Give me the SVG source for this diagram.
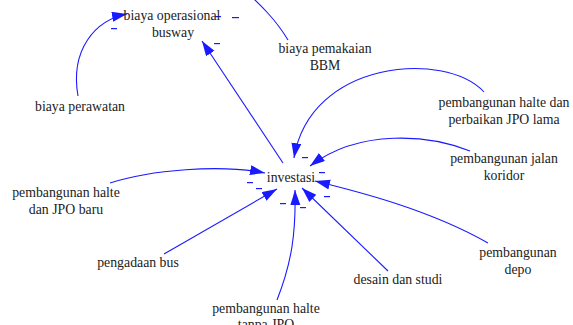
<svg xmlns="http://www.w3.org/2000/svg" width="573" height="325" viewBox="0 0 573 325">
<defs>
<style>
text{font-family:'Liberation Serif','Times New Roman',Tinos,'DejaVu Serif',serif;font-size:13.8px;fill:#222;text-anchor:middle}
.c{fill:none;stroke:#1a1aff;stroke-width:1.1}
.s{fill:#1a1aff}
</style>
<marker id="a" markerUnits="userSpaceOnUse" markerWidth="16" markerHeight="12" refX="15" refY="5" orient="auto">
<path d="M0,0 L15,5 L0,10 Z" fill="#1a1aff"/>
</marker>
</defs>
<rect width="573" height="325" fill="#fff"/>
<g id="connectors">
<path class="c" marker-end="url(#a)" d="M78,96 C70,50 95,20 127,14"/>
<path class="c" marker-end="url(#a)" d="M288,40 C276,20 262,6 240,-14"/>
<path class="c" marker-end="url(#a)" d="M283,163 L202,41"/>
<path class="c" marker-end="url(#a)" d="M484,92 C445,50 310,60 294,158"/>
<path class="c" marker-end="url(#a)" d="M470,151 C430,135 360,128 310,166"/>
<path class="c" marker-end="url(#a)" d="M488,243 C430,210 360,192 315,181"/>
<path class="c" marker-end="url(#a)" d="M388,271 L302,188"/>
<path class="c" marker-end="url(#a)" d="M277,300 C292,262 296,232 295,190"/>
<path class="c" marker-end="url(#a)" d="M164,254 L277,189"/>
<path class="c" marker-end="url(#a)" d="M110,183 C150,170 220,164 265,173"/>
<g>
<rect class="s" x="111" y="28" width="6" height="1.2"/>
<rect class="s" x="214" y="43" width="6" height="1.2"/>
<rect class="s" x="215" y="16" width="6" height="1.2"/>
<rect class="s" x="232" y="17" width="7" height="1.2"/>
<rect class="s" x="302" y="157" width="6" height="1.2"/>
<rect class="s" x="319" y="172" width="6" height="1.2"/>
<rect class="s" x="247" y="182" width="6" height="1.2"/>
<rect class="s" x="256" y="188" width="6" height="1.2"/>
<rect class="s" x="280" y="203" width="6" height="1.2"/>
<rect class="s" x="300" y="207" width="6" height="1.2"/>
<rect class="s" x="324" y="196" width="6" height="1.2"/>
</g>
</g>
<g id="biaya-operasional"><text x="172" y="20">biaya operasional</text><text x="173" y="37">busway</text></g>
<g id="biaya-pemakaian"><text x="325" y="53">biaya pemakaian</text><text x="325" y="70">BBM</text></g>
<g id="biaya-perawatan"><text x="80" y="111">biaya perawatan</text></g>
<g id="halte-perbaikan"><text x="504" y="107">pembangunan halte dan</text><text x="504" y="124">perbaikan JPO lama</text></g>
<g id="jalan-koridor"><text x="504" y="163">pembangunan jalan</text><text x="504" y="180">koridor</text></g>
<g id="investasi"><text x="291" y="182">investasi</text></g>
<g id="halte-baru"><text x="66" y="197">pembangunan halte</text><text x="66" y="214">dan JPO baru</text></g>
<g id="pengadaan-bus"><text x="138" y="267">pengadaan bus</text></g>
<g id="desain"><text x="398" y="284">desain dan studi</text></g>
<g id="halte-tanpa"><text x="266" y="313">pembangunan halte</text><text x="266" y="329">tanpa JPO</text></g>
<g id="depo"><text x="518" y="257">pembangunan</text><text x="518" y="274">depo</text></g>
</svg>
